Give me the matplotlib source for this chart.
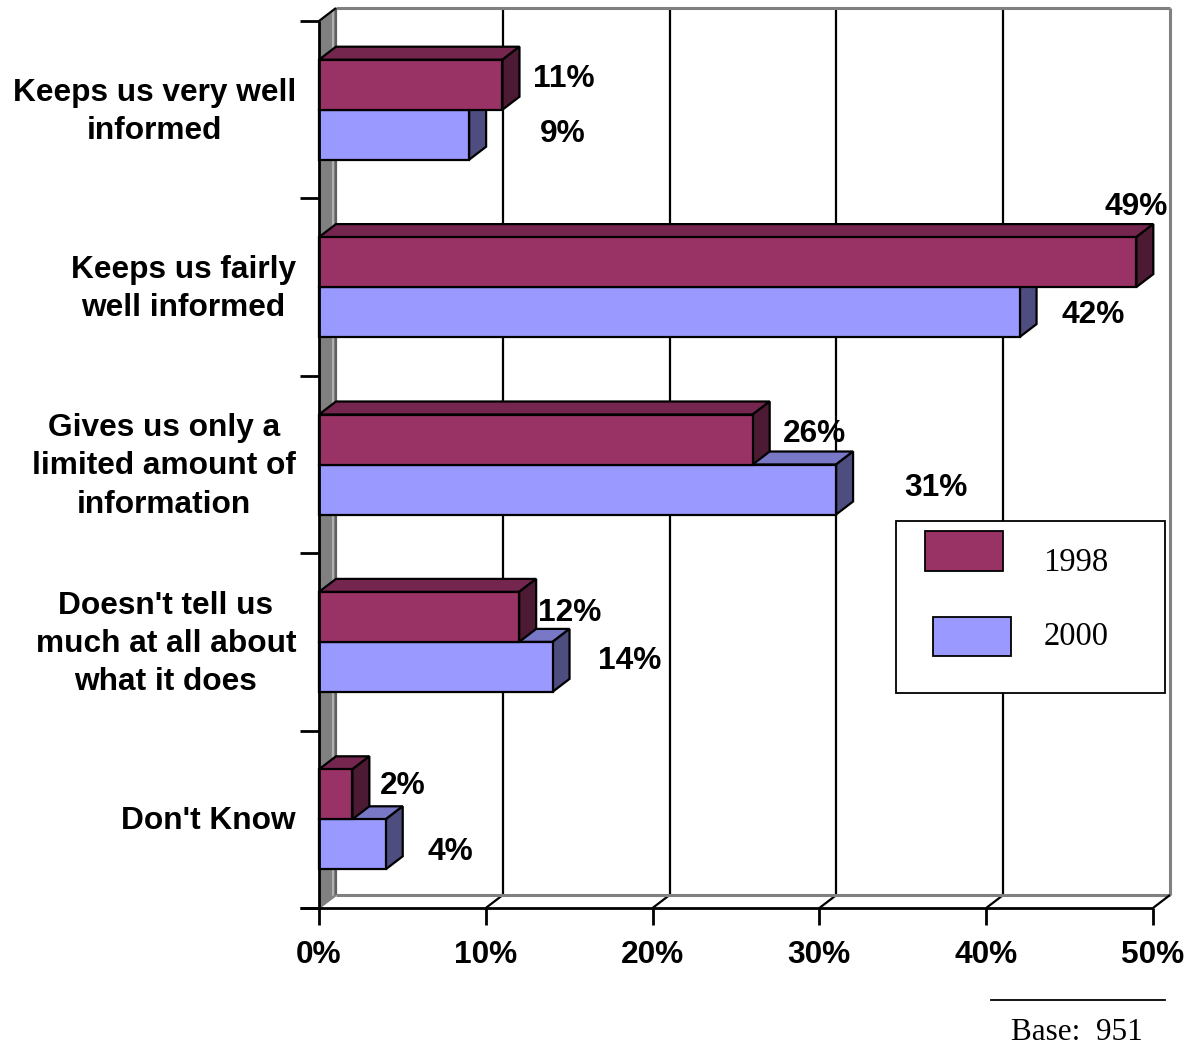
import matplotlib
matplotlib.use("Agg")
import matplotlib.pyplot as plt
from matplotlib.patches import Polygon, Rectangle

# ---- data ----
categories = [
    "Keeps us very well\ninformed",
    "Keeps us fairly\nwell informed",
    "Gives us only a\nlimited amount of\ninformation",
    "Doesn't tell us\nmuch at all about\nwhat it does",
    "Don't Know",
]
series_names = ["1998", "2000"]
values_1998 = [11, 49, 26, 12, 2]
values_2000 = [9, 42, 31, 14, 4]
x_ticks = [0, 10, 20, 30, 40, 50]
x_tick_labels = ["0%", "10%", "20%", "30%", "40%", "50%"]
base_note = "Base:  951"

# label placement offsets (x in % units, y in band units) for each value label
label_dx_1998 = [3.7, 0.0, 3.7, 3.0, 3.0]
label_dy_1998 = [0.03, 0.31, 0.03, 0.02, 0.045]
label_dx_2000 = [5.6, 4.4, 6.0, 4.6, 3.9]
label_dy_2000 = [0.005, -0.015, 0.01, 0.035, -0.045]

# ---- styles ----
COL_1998 = "#993366"
COL_1998_TOP = "#74264f"
COL_1998_SIDE = "#4d1a33"
COL_2000 = "#9999ff"
COL_2000_TOP = "#7878c6"
COL_2000_SIDE = "#4d4d80"
WALL_GRAY = "#808080"
FS = 22.8

W, H = 1193, 1052
fig = plt.figure(figsize=(W / 100, H / 100), dpi=100)
fig.patch.set_facecolor("white")

x0_px, x1_px, ytop_px, ybot_px = 319, 1153, 21, 908
ax = fig.add_axes([x0_px / W, (H - ybot_px) / H, (x1_px - x0_px) / W, (ybot_px - ytop_px) / H])
ax.set_xlim(0, 50)
ax.set_ylim(0, 5)
ax.axis("off")

px_x = (x1_px - x0_px) / 50.0
px_y = (ybot_px - ytop_px) / 5.0
DX = 17 / px_x
DY = 13 / px_y
BAR_H = 50 / px_y
LW = 1.6

sans = ["Liberation Sans", "Arial", "DejaVu Sans"]
serif = ["Liberation Serif", "Times New Roman", "DejaVu Serif"]

def add(p):
    p.set_clip_on(False)
    ax.add_patch(p)

def line(xs, ys, **kw):
    ax.plot(xs, ys, clip_on=False, solid_capstyle="butt", **kw)

# left wall
add(Polygon([(0, 0), (0, 5), (DX, 5 + DY), (DX, DY)], closed=True,
            facecolor=WALL_GRAY, edgecolor="none", zorder=1))
line([DX * 0.8, DX * 0.8], [DY * 0.8, 5 + DY * 0.8], color="#b0b0b0", lw=1.5, zorder=1.1)

# back wall gridlines and outline
for g in x_ticks[1:-1]:
    line([g + DX, g + DX], [DY, 5 + DY], color="black", lw=1.6, zorder=1)
    line([g, g + DX], [0, DY], color="black", lw=1.6, zorder=1)
line([DX, 50 + DX], [5 + DY, 5 + DY], color=WALL_GRAY, lw=2.2, zorder=1.2)
line([50 + DX, 50 + DX], [DY, 5 + DY], color=WALL_GRAY, lw=2.2, zorder=1.2)
line([DX, DX], [DY, 5 + DY], color="#606060", lw=1.6, zorder=1.2)
line([DX, 50 + DX], [DY, DY], color=WALL_GRAY, lw=2.2, zorder=1.2)
line([50, 50 + DX], [0, DY], color="black", lw=1.6, zorder=1.2)
line([0, DX], [0, DY], color=WALL_GRAY, lw=1.6, zorder=1.2)
line([0, DX], [5, 5 + DY], color="black", lw=1.6, zorder=1.2)

# axes lines and ticks
tick_x = 19 / px_x
tick_y = 17 / px_y
line([0, 0], [0, 5], color="black", lw=2.0, zorder=5)
line([-tick_x, 50], [0, 0], color="black", lw=2.0, zorder=5)
for k in range(6):
    line([-tick_x, 0], [k, k], color="black", lw=2.0, zorder=5)
for g in x_ticks:
    line([g, g], [0, -tick_y], color="black", lw=2.0, zorder=5)

def bar3d(x_len, y0, front, top, side, z):
    y1 = y0 + BAR_H
    add(Polygon([(0, y1), (x_len, y1), (x_len + DX, y1 + DY), (DX, y1 + DY)], closed=True,
                facecolor=top, edgecolor="black", lw=LW, joinstyle="miter", zorder=z))
    add(Polygon([(x_len, y0), (x_len, y1), (x_len + DX, y1 + DY), (x_len + DX, y0 + DY)], closed=True,
                facecolor=side, edgecolor="black", lw=LW, joinstyle="miter", zorder=z))
    add(Rectangle((0, y0), x_len, BAR_H, facecolor=front, edgecolor="black", lw=LW,
                  joinstyle="miter", zorder=z + 0.1))

n = len(categories)
for i, cat in enumerate(categories):
    yc = n - i - 0.5
    bar3d(values_2000[i], yc - BAR_H, COL_2000, COL_2000_TOP, COL_2000_SIDE, 3 + i * 0.01)
    bar3d(values_1998[i], yc, COL_1998, COL_1998_TOP, COL_1998_SIDE, 3.5 + i * 0.01)

    ax.text(values_1998[i] + label_dx_1998[i], yc + BAR_H / 2 + label_dy_1998[i],
            f"{values_1998[i]}%", ha="center", va="center", fontsize=FS,
            fontweight="bold", family=sans, zorder=6)
    ax.text(values_2000[i] + label_dx_2000[i], yc - BAR_H / 2 + label_dy_2000[i],
            f"{values_2000[i]}%", ha="center", va="center", fontsize=FS,
            fontweight="bold", family=sans, zorder=6)

    ax.text(-23 / px_x, yc - 2 / px_y, cat, ha="right", va="center", multialignment="center",
            fontsize=FS, fontweight="bold", family=sans, linespacing=1.35)

for g, lab in zip(x_ticks, x_tick_labels):
    ax.text(g, -47 / px_y, lab, ha="center", va="center", fontsize=FS,
            fontweight="bold", family=sans)

# legend box
lax = fig.add_axes([0, 0, 1, 1], facecolor="none")
lax.set_xlim(0, W)
lax.set_ylim(H, 0)
lax.axis("off")
lax.add_patch(Rectangle((896, 521), 269, 172, facecolor="white", edgecolor="black", lw=1.3, zorder=7))
lax.add_patch(Rectangle((925, 531), 78, 40, facecolor=COL_1998, edgecolor="black", lw=1.3, zorder=8))
lax.add_patch(Rectangle((933, 617), 78, 39, facecolor=COL_2000, edgecolor="black", lw=1.3, zorder=8))
lax.text(1076, 563, series_names[0], ha="center", va="center", fontsize=23.5, family=serif, zorder=9)
lax.text(1076, 637, series_names[1], ha="center", va="center", fontsize=23.5, family=serif, zorder=9)

# base note
lax.plot([991, 1165], [1000, 1000], color="black", lw=1.3)
lax.text(1077, 1032, base_note, ha="center", va="center", fontsize=22.5, family=serif)

fig.savefig("out.png", dpi=100, facecolor="white")
